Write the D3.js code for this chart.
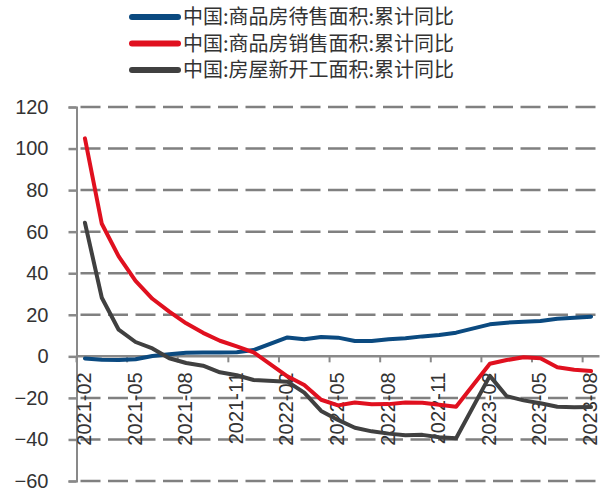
<html>
<style>
    body { margin:0; background:#fff }
    svg { display:block }
</style>
<script src="https://d3js.org/d3.v7.min.js" charset="utf-8"></script>
<body>
<script>
    //************************************************************
    // Data - months (January is not published, so it is skipped)
    //************************************************************
    var months = [
        "2021-02","2021-03","2021-04","2021-05","2021-06","2021-07","2021-08","2021-09","2021-10","2021-11","2021-12",
        "2022-02","2022-03","2022-04","2022-05","2022-06","2022-07","2022-08","2022-09","2022-10","2022-11","2022-12",
        "2023-02","2023-03","2023-04","2023-05","2023-06","2023-07","2023-08" ];

    var unsold = [ -1.0, -1.6, -1.8, -1.4, 0.2, 1.0, 1.7, 1.8, 1.9, 2.0, 3.0,
        9.1, 8.2, 9.3, 9.0, 7.4, 7.4, 8.2, 8.7, 9.6, 10.3, 11.4,
        15.4, 16.2, 16.7, 17.0, 18.1, 18.6, 19.1 ];

    var sold = [ 104.9, 63.8, 48.1, 36.3, 27.7, 21.5, 15.9, 11.3, 7.5, 4.8, 1.9,
        -9.6, -13.8, -20.9, -23.6, -22.2, -23.1, -23.0, -22.2, -22.3, -23.3, -24.3,
        -3.6, -1.8, -0.4, -0.9, -5.3, -6.5, -7.1 ];

    var newStarts = [ 64.3, 28.2, 12.8, 6.9, 3.8, -0.9, -3.2, -4.5, -7.7, -9.1, -11.4,
        -12.2, -17.5, -26.3, -30.6, -34.4, -36.1, -37.2, -38.0, -37.8, -38.9, -39.4,
        -9.4, -19.2, -21.2, -22.6, -24.3, -24.5, -24.4 ];

    var seriesNames = [ "中国:商品房待售面积:累计同比", "中国:商品房销售面积:累计同比", "中国:房屋新开工面积:累计同比" ];
    var seriesColors = [ "#0b4a80", "#e0101f", "#404040" ];
    var seriesValues = [ unsold, sold, newStarts ];

    var xTickLabels = [ "2021-02","2021-05","2021-08","2021-11","2022-02","2022-05","2022-08","2022-11","2023-02","2023-05","2023-08" ];
    var yTicks = [ -60, -40, -20, 0, 20, 40, 60, 80, 100, 120 ];

    //************************************************************
    // Configuration
    //************************************************************
    var width = 604, height = 497;
    var plot = { left: 76.5, right: 599.5, top: 107, bottom: 481 };

    // month position counted from 2021-02
    function monthIndex(s) {
        var p = s.split("-");
        return (+p[0] - 2021) * 12 + (+p[1] - 2);
    }

    var x = d3.scaleLinear().domain([0, 31]).range([plot.left, plot.right]);
    var y = d3.scaleLinear().domain([-60, 120]).range([plot.bottom, plot.top]);

    var svg = d3.select("body").append("svg")
        .attr("width", width)
        .attr("height", height);

    //Gridlines
    svg.append("g").selectAll("line")
        .data(yTicks.filter(function(d){ return d != 0; }))
        .enter().append("line")
        .attr("x1", plot.left + 4)
        .attr("x2", plot.right)
        .attr("y1", function(d){ return y(d); })
        .attr("y2", function(d){ return y(d); })
        .attr("stroke", "#808080")
        .attr("stroke-width", 2.5)
        .attr("stroke-dasharray", "20,7.5");

    //y axis with ticks on left
    var yAxis = d3.axisLeft(y).tickValues(yTicks).tickSize(8).tickPadding(20);
    var gy = svg.append("g")
        .attr("transform", "translate(" + plot.left + ",0)")
        .call(yAxis);
    gy.select(".domain").attr("stroke", "#898989").attr("stroke-width", 2);
    gy.selectAll(".tick line").attr("stroke", "#898989").attr("stroke-width", 2.5);
    gy.selectAll(".tick text")
        .attr("font-family", "Liberation Sans, Arial, sans-serif")
        .attr("font-size", 20)
        .attr("fill", "#333");

    //x axis at zero line
    var gx = svg.append("g");
    gx.append("line")
        .attr("x1", plot.left)
        .attr("x2", plot.right)
        .attr("y1", y(0))
        .attr("y2", y(0))
        .attr("stroke", "#898989")
        .attr("stroke-width", 2.5);
    gx.selectAll("line.tick")
        .data(xTickLabels)
        .enter().append("line")
        .attr("class", "tick")
        .attr("x1", function(d){ return x(monthIndex(d)); })
        .attr("x2", function(d){ return x(monthIndex(d)); })
        .attr("y1", y(0))
        .attr("y2", y(0) + 6)
        .attr("stroke", "#898989")
        .attr("stroke-width", 2);

    //Lines
    var line = d3.line()
        .x(function(d, i){ return x(monthIndex(months[i]) + 0.5); })
        .y(function(d){ return y(d); });

    svg.append("g").selectAll("path")
        .data(seriesValues)
        .enter().append("path")
        .attr("d", line)
        .attr("fill", "none")
        .attr("stroke", function(d, i){ return seriesColors[i]; })
        .attr("stroke-width", 4)
        .attr("stroke-linejoin", "round")
        .attr("stroke-linecap", "round");

    //x labels drawn over the lines
    gx.selectAll("text")
        .data(xTickLabels)
        .enter().append("text")
        .attr("transform", function(d){
            return "translate(" + (x(monthIndex(d) + 0.5) - 1) + "," + (y(0) + 16) + ") rotate(-90)";
        })
        .attr("text-anchor", "end")
        .attr("dy", "0.35em")
        .attr("font-family", "Liberation Sans, Arial, sans-serif")
        .attr("font-size", 20)
        .attr("fill", "#333")
        .text(function(d){ return d; });

    //Legend
    var legend = svg.append("g").selectAll("g")
        .data(seriesNames)
        .enter().append("g")
        .attr("transform", function(d, i){ return "translate(132," + (17 + i * 26.5) + ")"; });
    legend.append("line")
        .attr("x1", 0)
        .attr("x2", 46)
        .attr("stroke", function(d, i){ return seriesColors[i]; })
        .attr("stroke-width", 6)
        .attr("stroke-linecap", "round");
    legend.append("text")
        .attr("x", 51)
        .attr("dy", "0.36em")
        .attr("font-family", "Noto Sans CJK SC")
        .attr("font-size", 20)
        .attr("fill", "#333")
        .text(function(d){ return d; });
</script>
</body>
</html>
